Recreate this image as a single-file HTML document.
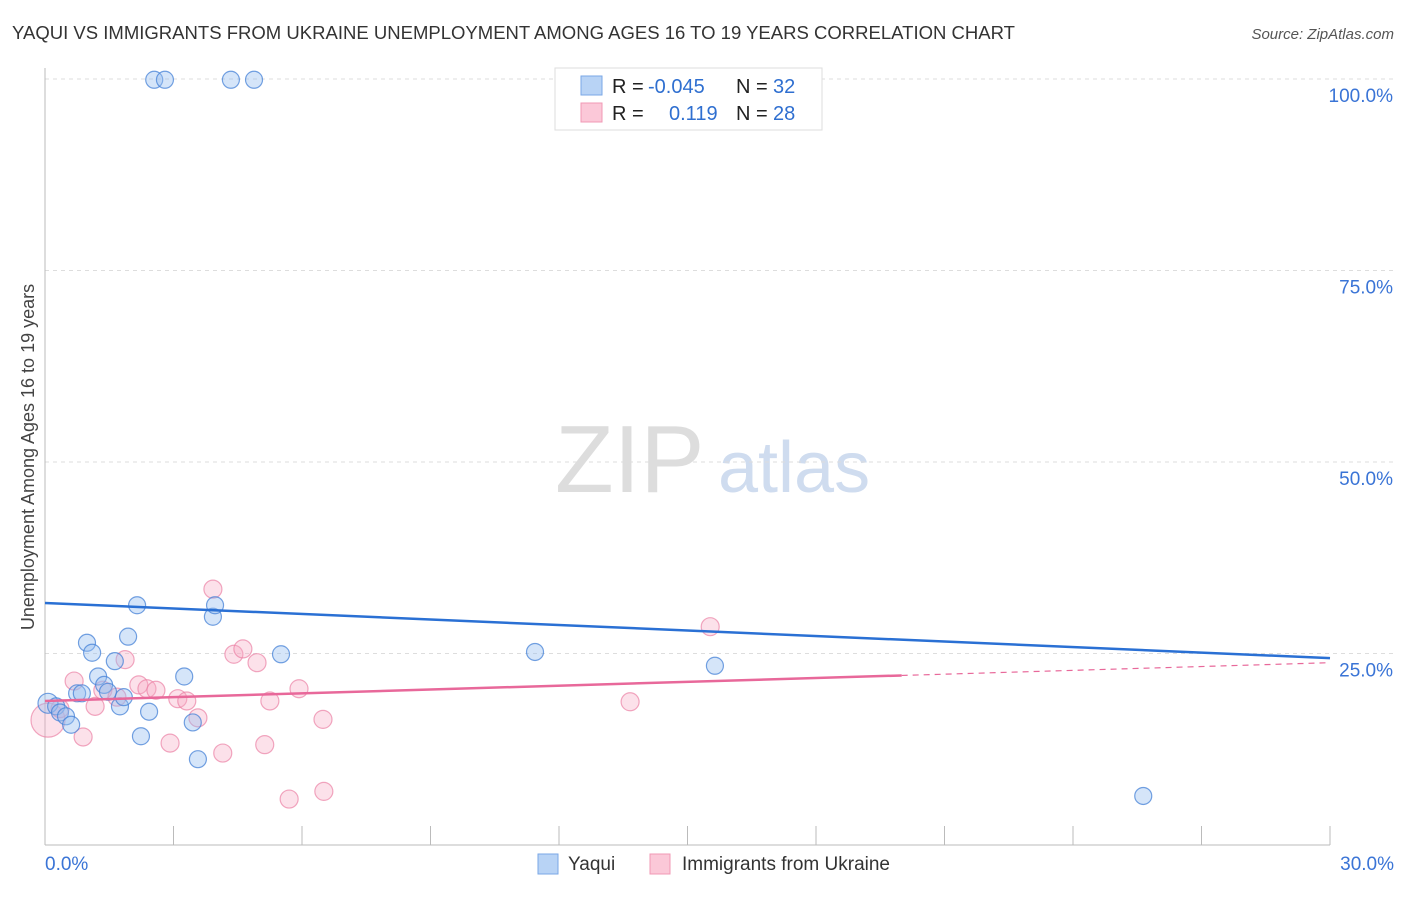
<!DOCTYPE html>
<html><head><meta charset="utf-8"><style>
body{margin:0;background:#fff;font-family:"Liberation Sans",sans-serif;}
svg text{font-family:"Liberation Sans",sans-serif;}
</style></head><body>
<svg id="c" width="1406" height="892">
<text x="12" y="39" font-size="18" fill="#333" textLength="1003" lengthAdjust="spacingAndGlyphs">YAQUI VS IMMIGRANTS FROM UKRAINE UNEMPLOYMENT AMONG AGES 16 TO 19 YEARS CORRELATION CHART</text>
<text x="1394" y="39" font-size="15" fill="#555" font-style="italic" text-anchor="end">Source: ZipAtlas.com</text>
<text x="0" y="0" font-size="18" fill="#444" text-anchor="middle" transform="translate(34,457) rotate(-90)">Unemployment Among Ages 16 to 19 years</text>
<text x="555" y="492" font-size="96" fill="#ddd" font-family="Liberation Serif">ZIP</text>
<text x="718" y="492" font-size="72" fill="#cfdcef">atlas</text>
<g id="grid"></g><g id="marks"></g>
<g>
<rect x="555" y="68" width="267" height="62" fill="#fff" stroke="#ddd"/>
<rect x="581" y="76" width="21" height="19" fill="#b8d3f5" stroke="#7aa7e6"/>
<rect x="581" y="103" width="21" height="19" fill="#fbc8d8" stroke="#f098b5"/>
<text y="93" font-size="20" fill="#222"><tspan x="612">R =</tspan><tspan x="648" fill="#2f6fd0">-0.045</tspan><tspan x="736">N =</tspan><tspan x="773" fill="#2f6fd0">32</tspan></text>
<text y="120" font-size="20" fill="#222"><tspan x="612">R =</tspan><tspan x="669" fill="#2f6fd0">0.119</tspan><tspan x="736">N =</tspan><tspan x="773" fill="#2f6fd0">28</tspan></text>
</g>
<g>
<rect x="538" y="854" width="20" height="20" fill="#b8d3f5" stroke="#7aa7e6"/>
<text x="568" y="870" font-size="19" fill="#333">Yaqui</text>
<rect x="650" y="854" width="20" height="20" fill="#fbc8d8" stroke="#f098b5"/>
<text x="682" y="870" font-size="19" fill="#333">Immigrants from Ukraine</text>
</g>
</svg>
<script>
const yTicks=[25,50,75,100];
const yTickLabels=["25.0%","50.0%","75.0%","100.0%"];
const xEndLabels=["0.0%","30.0%"];
const blueX=[0.07,0.26,0.35,0.49,0.61,0.75,0.86,0.98,1.10,1.24,1.38,1.47,1.63,1.75,1.84,1.94,2.15,2.24,2.43,3.25,3.45,3.57,3.92,3.97,4.34,4.88,5.51,11.44,15.64,25.64,2.55,2.80];
const blueY=[18.5,18.1,17.3,16.8,15.7,19.8,19.8,26.4,25.1,22.0,20.9,20.0,24.0,18.1,19.3,27.2,31.3,14.2,17.4,22.0,16.0,11.2,29.8,31.3,99.9,99.9,24.9,25.2,23.4,6.4,99.9,99.9];
const pinkX=[0.07,0.35,0.68,0.89,1.17,1.35,1.68,1.87,2.19,2.38,2.59,3.10,3.31,2.92,3.57,3.92,4.15,4.41,4.62,4.95,5.13,5.25,5.70,5.93,6.49,6.51,13.66,15.53];
const pinkY=[16.3,17.8,21.4,14.1,18.1,20.2,19.3,24.2,20.9,20.4,20.2,19.1,18.8,13.3,16.6,33.4,12.0,24.9,25.6,23.8,13.1,18.8,6.0,20.4,16.4,7.0,18.7,28.5];
const blueTrend=[31.6,24.4];
const pinkTrend=[18.8,23.8];
const pinkSolidEnd=20;
const X=v=>45+v/30*1285, Y=v=>845-v/100*766;
const NS="http://www.w3.org/2000/svg";
function mk(t,a,p){const e=document.createElementNS(NS,t);for(const k in a)e.setAttribute(k,a[k]);p.appendChild(e);return e;}
const g=document.getElementById('grid'),m=document.getElementById('marks');
yTicks.forEach((t,i)=>{
 const l=mk('line',{x1:45,x2:1394,y1:Y(t),y2:Y(t),stroke:'#ddd','stroke-dasharray':'4,4'},g);
 
 
 const tx=mk('text',{x:1393,y:Y(t)+23,'font-size':19,fill:'#3a74d6','text-anchor':'end'},g);tx.textContent=yTickLabels[i];
 
 
});
const ax=mk('line',{x1:45,x2:45,y1:68,y2:845,stroke:'#bbb'},g);


const bx=mk('line',{x1:45,x2:1330,y1:845,y2:845,stroke:'#bbb'},g);


for(let i=1;i<=10;i++){const tk=mk('line',{x1:X(i*3),x2:X(i*3),y1:826,y2:845,stroke:'#bbb'},g);
 
 }
const xl0=mk('text',{x:45,y:870,'font-size':19,fill:'#3a74d6'},g);xl0.textContent=xEndLabels[0];


const xl1=mk('text',{x:1394,y:870,'font-size':19,fill:'#3a74d6','text-anchor':'end'},g);xl1.textContent=xEndLabels[1];


pinkX.forEach((x,i)=>{const c=mk('circle',{cx:X(x),cy:Y(pinkY[i]),r:i==0?17:9,fill:'rgba(247,170,195,0.35)',stroke:'rgba(235,130,165,0.7)','stroke-width':1.2},m);
 
 });
blueX.forEach((x,i)=>{const c=mk('circle',{cx:X(x),cy:Y(blueY[i]),r:i==0?10:8.5,fill:'rgba(150,190,240,0.4)',stroke:'rgba(70,130,215,0.75)','stroke-width':1.2},m);
 
 });
const pt=v=>pinkTrend[0]+(pinkTrend[1]-pinkTrend[0])*v/30;
const pl=mk('line',{x1:X(0),y1:Y(pt(0)),x2:X(pinkSolidEnd),y2:Y(pt(pinkSolidEnd)),stroke:'#e8689a','stroke-width':2.5},m);


const pd=mk('line',{x1:X(pinkSolidEnd),y1:Y(pt(pinkSolidEnd)),x2:X(30),y2:Y(pt(30)),stroke:'#e8689a','stroke-width':1.2,'stroke-dasharray':'6,5'},m);


const bl=mk('line',{x1:X(0),y1:Y(blueTrend[0]),x2:X(30),y2:Y(blueTrend[1]),stroke:'#2a70d4','stroke-width':2.5},m);


</script>
</body></html>
